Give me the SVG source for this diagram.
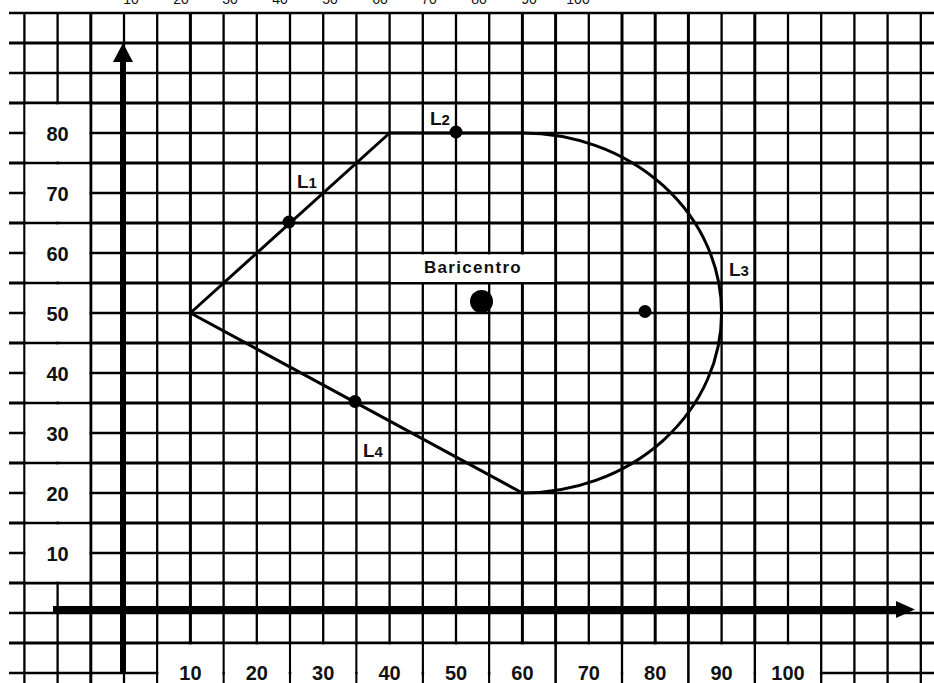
<svg xmlns="http://www.w3.org/2000/svg" width="934" height="683" viewBox="0 0 934 683">
<style>
.g{stroke:#000;fill:none}
.t{stroke-width:2.3}
.k{stroke-width:3}
.w{fill:#fff;stroke:none}
.num{font-family:"Liberation Sans",Arial,sans-serif;font-size:20px;font-weight:bold;fill:#111;text-anchor:middle}
.top{font-family:"Liberation Sans",Arial,sans-serif;font-size:14px;fill:#111;text-anchor:middle}
.lab{font-family:"Liberation Sans",Arial,sans-serif;font-size:19px;font-weight:bold;fill:#111}
.sub{font-size:15px}
.shape{stroke:#000;stroke-width:3;fill:none;stroke-linejoin:round}
</style>
<rect width="934" height="683" fill="#fff"/>
<g id="top-numbers">
<text class="top" x="131" y="4">10</text>
<text class="top" x="181" y="4">20</text>
<text class="top" x="230" y="4">30</text>
<text class="top" x="280" y="4">40</text>
<text class="top" x="330" y="4">50</text>
<text class="top" x="380" y="4">60</text>
<text class="top" x="429" y="4">70</text>
<text class="top" x="479" y="4">80</text>
<text class="top" x="529" y="4">90</text>
<text class="top" x="578" y="4">100</text>
</g>
<g id="grid">
<path class="g t" d="M9 13H934M9 73H934M9 133H934M9 193H934M9 253H934M9 313H934M9 373H934M9 433H934M9 493H934M9 553H934M9 613H934M9 673H934"/>
<path class="g k" d="M9 43H934M9 103H934M9 163H934M9 223H934M9 283H934M9 343H934M9 403H934M9 463H934M9 523H934M9 583H934M9 643H934"/>
<path class="g t" d="M24.4 13V683M57.6 13V683M124 13V683M157.2 13V683M223.6 13V683M256.8 13V683M290 13V683M323.2 13V683M356.4 13V683M389.6 13V683M422.8 13V683M456 13V683M489.2 13V683M588.8 13V683M721.6 13V683M788 13V683M821.2 13V683M854.4 13V683M887.6 13V683M920.8 13V683"/>
<path class="g k" d="M90.8 13V683M190.4 13V683M522.4 13V683M555.6 13V683M622 13V683M655.2 13V683M688.4 13V683M754.8 13V683"/>
</g>
<g id="label-boxes">
<rect class="w" x="25.6" y="104.5" width="63.7" height="57"/>
<rect class="w" x="25.6" y="164.5" width="63.7" height="57"/>
<rect class="w" x="25.6" y="224.5" width="63.7" height="57"/>
<rect class="w" x="25.6" y="284.5" width="63.7" height="57"/>
<rect class="w" x="25.6" y="344.5" width="63.7" height="57"/>
<rect class="w" x="25.6" y="404.5" width="63.7" height="57"/>
<rect class="w" x="25.6" y="464.5" width="63.7" height="57"/>
<rect class="w" x="25.6" y="524.5" width="63.7" height="57"/>
<rect class="w" x="158.5" y="644.5" width="63.8" height="40"/>
<rect class="w" x="224.9" y="644.5" width="63.8" height="40"/>
<rect class="w" x="291.3" y="644.5" width="63.8" height="40"/>
<rect class="w" x="357.7" y="644.5" width="63.8" height="40"/>
<rect class="w" x="424.1" y="644.5" width="63.8" height="40"/>
<rect class="w" x="490.5" y="644.5" width="63.8" height="40"/>
<rect class="w" x="556.9" y="644.5" width="63.8" height="40"/>
<rect class="w" x="623.3" y="644.5" width="63.8" height="40"/>
<rect class="w" x="689.7" y="644.5" width="63.8" height="40"/>
<rect class="w" x="756.1" y="644.5" width="63.8" height="40"/>
<rect class="w" x="391" y="254.5" width="163.2" height="27.5"/>
</g>
<g id="axes">
<line x1="123" y1="58" x2="123" y2="672" stroke="#000" stroke-width="6"/>
<polygon points="123,43 113,62 133,62" fill="#000"/>
<line x1="53" y1="609.5" x2="898" y2="609.5" stroke="#000" stroke-width="7"/>
<polygon points="915,609.5 896,601 896,618" fill="#000"/>
</g>
<g id="y-labels">
<text class="num" x="57.6" y="140.5">80</text>
<text class="num" x="57.6" y="200.5">70</text>
<text class="num" x="57.6" y="260.5">60</text>
<text class="num" x="57.6" y="320.5">50</text>
<text class="num" x="57.6" y="380.5">40</text>
<text class="num" x="57.6" y="440.5">30</text>
<text class="num" x="57.6" y="500.5">20</text>
<text class="num" x="57.6" y="560.5">10</text>
</g>
<g id="x-labels">
<text class="num" x="190.4" y="680">10</text>
<text class="num" x="256.8" y="680">20</text>
<text class="num" x="323.2" y="680">30</text>
<text class="num" x="389.6" y="680">40</text>
<text class="num" x="456" y="680">50</text>
<text class="num" x="522.4" y="680">60</text>
<text class="num" x="588.8" y="680">70</text>
<text class="num" x="655.2" y="680">80</text>
<text class="num" x="721.6" y="680">90</text>
<text class="num" x="788" y="680">100</text>
</g>
<g id="shape">
<path class="shape" d="M190.4 313L389.6 133H522.4A199.2 180 0 0 1 721.6 313A199.2 180 0 0 1 522.4 493Z"/>
</g>
<g id="points">
<circle id="p-L1" cx="289" cy="222" r="6.5"/>
<circle id="p-L2" cx="456" cy="132" r="6.5"/>
<circle id="p-bar" cx="481.5" cy="301.5" r="11.5"/>
<circle id="p-L3" cx="645" cy="311.5" r="6.5"/>
<circle id="p-L4" cx="355" cy="401.5" r="6.5"/>
</g>
<g id="labels">
<text class="lab" x="297" y="188">L<tspan class="sub">1</tspan></text>
<text class="lab" x="430" y="125">L<tspan class="sub">2</tspan></text>
<text class="lab" x="729" y="276">L<tspan class="sub">3</tspan></text>
<text class="lab" x="363" y="457">L<tspan class="sub">4</tspan></text>
<text class="lab" x="473" y="273" text-anchor="middle" style="font-size:17px;letter-spacing:1.3px">Baricentro</text>
</g>
</svg>
